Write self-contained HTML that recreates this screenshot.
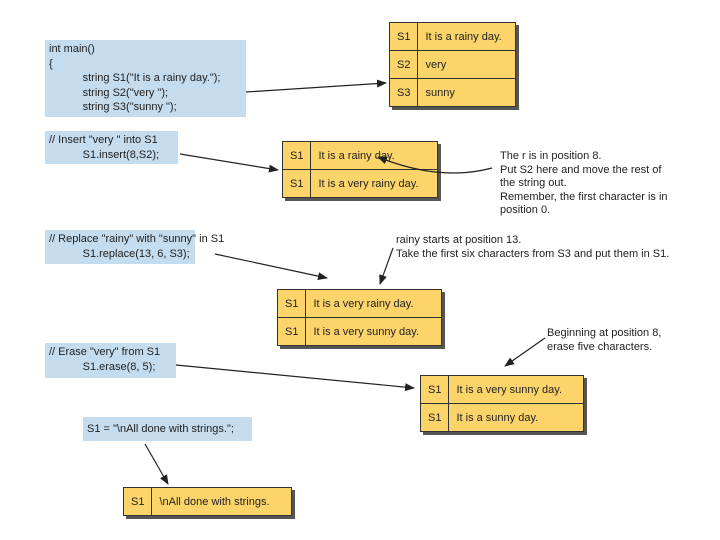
<!DOCTYPE html>
<html><head><meta charset="utf-8"><style>
body{margin:0;width:720px;height:540px;background:#fff;position:relative;font-family:"Liberation Sans",sans-serif;font-size:11px;color:#222;overflow:hidden}
.b{position:absolute;background:#c5dcee;line-height:14.5px;padding:2px 4px;box-sizing:border-box;white-space:pre}
.t{position:absolute;border-collapse:collapse;background:#fcd46a;box-shadow:3px 3px 0 #555;font-size:11px}
.t td{border:1px solid #333;height:27px;padding:0 7px;white-space:nowrap}
.n{position:absolute;line-height:13.5px;white-space:pre;font-size:11px}
</style></head><body>
<div class="b" style="left:45px;top:40px;width:201px;height:77px">int main()
{
           string S1("It is a rainy day.");
           string S2("very ");
           string S3("sunny ");</div>
<table class="t" style="left:389px;top:22px;width:127px"><tr><td style="width:13px">S1</td><td>It is a rainy day.</td></tr><tr><td>S2</td><td>very</td></tr><tr><td>S3</td><td>sunny</td></tr></table>

<div class="b" style="left:45px;top:131px;width:133px;height:33px">// Insert "very " into S1
           S1.insert(8,S2);</div>
<table class="t" style="left:282px;top:141px;width:156px"><tr><td style="width:13px">S1</td><td>It is a rainy day.</td></tr><tr><td>S1</td><td>It is a very rainy day.</td></tr></table>
<div class="n" style="left:500px;top:150px">The r is in position 8.
Put S2 here and move the rest of
the string out.
Remember, the first character is in
position 0.</div>

<div class="b" style="left:45px;top:230px;width:150px;height:34px">// Replace "rainy" with "sunny" in S1
           S1.replace(13, 6, S3);</div>
<div class="n" style="left:396px;top:234px">rainy starts at position 13.
Take the first six characters from S3 and put them in S1.</div>
<table class="t" style="left:277px;top:289px;width:165px"><tr><td style="width:13px">S1</td><td>It is a very rainy day.</td></tr><tr><td>S1</td><td>It is a very sunny day.</td></tr></table>

<div class="n" style="left:547px;top:327px">Beginning at position 8,
erase five characters.</div>
<div class="b" style="left:45px;top:343px;width:131px;height:35px">// Erase "very" from S1
           S1.erase(8, 5);</div>
<table class="t" style="left:420px;top:375px;width:164px"><tr><td style="width:13px">S1</td><td>It is a very sunny day.</td></tr><tr><td>S1</td><td>It is a sunny day.</td></tr></table>

<div class="b" style="left:83px;top:417px;width:169px;height:24px;line-height:20px">S1 = "\nAll done with strings.";</div>
<table class="t" style="left:123px;top:487px;width:169px"><tr><td style="width:13px">S1</td><td>\nAll done with strings.</td></tr></table>

<svg width="720" height="540" style="position:absolute;left:0;top:0" fill="none" stroke="#222" stroke-width="1.2">
<defs><marker id="a" markerWidth="10" markerHeight="8" refX="9" refY="4" orient="auto" markerUnits="userSpaceOnUse"><path d="M0,0 L10,4 L0,8 z" fill="#222" stroke="none"/></marker></defs>
<line x1="246" y1="92" x2="386" y2="83" marker-end="url(#a)"/>
<line x1="180" y1="154" x2="278" y2="170" marker-end="url(#a)"/>
<path d="M492,168 Q440,182 378,157" marker-end="url(#a)"/>
<line x1="215" y1="254" x2="327" y2="278" marker-end="url(#a)"/>
<line x1="393" y1="248" x2="380" y2="284" marker-end="url(#a)"/>
<line x1="545" y1="338" x2="505" y2="366" marker-end="url(#a)"/>
<line x1="176" y1="365" x2="414" y2="388" marker-end="url(#a)"/>
<line x1="145" y1="444" x2="168" y2="484" marker-end="url(#a)"/>
</svg>
</body></html>
